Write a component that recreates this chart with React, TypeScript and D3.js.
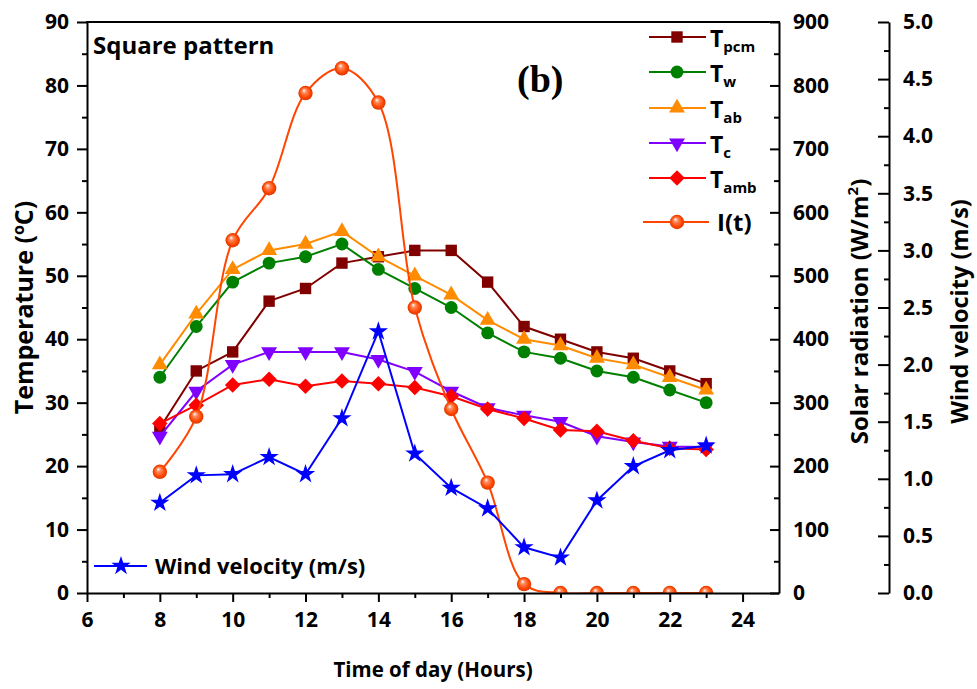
import { useEffect, useRef } from "react";
import * as d3 from "d3";

const width = 977;
const height = 689;
const plot = { left: 87, right: 779, top: 22, bottom: 593 };
const windAxisX = 889;
const font = "'Open Sans', 'Noto Sans', sans-serif";

// data
const hours = [8, 9, 10, 11, 12, 13, 14, 15, 16, 17, 18, 19, 20, 21, 22, 23];
const tPcm = [26, 35, 38, 46, 48, 52, 53, 54, 54, 49, 42, 40, 38, 37, 35, 33];
const tW = [34, 42, 49, 52, 53, 55, 51, 48, 45, 41, 38, 37, 35, 34, 32, 30];
const tAb = [36, 44, 51, 54, 55, 57, 53, 50, 47, 43, 40, 39, 37, 36, 34, 32];
const tC = [24.7, 31.8, 36, 38, 38, 38, 36.8, 34.9, 31.8, 29.2, 28, 27, 24.7, 23.8, 23.1, 23];
const tAmb = [26.7, 29.6, 32.8, 33.7, 32.6, 33.4, 33.0, 32.4, 31.0, 29.0, 27.5, 25.7, 25.5, 24.0, 22.8, 22.6];
const solar = [191, 278, 556, 638, 788, 827, 773, 450, 290, 174, 14, 0, 0, 0, 0, 0];
const wind = [0.79, 1.03, 1.04, 1.19, 1.04, 1.53, 2.29, 1.22, 0.92, 0.74, 0.4, 0.31, 0.81, 1.11, 1.25, 1.29];

const xTicks = [6, 8, 10, 12, 14, 16, 18, 20, 22, 24];
const tempTicks = [0, 10, 20, 30, 40, 50, 60, 70, 80, 90];
const solarTicks = [0, 100, 200, 300, 400, 500, 600, 700, 800, 900];
const windTicks = [0, 0.5, 1, 1.5, 2, 2.5, 3, 3.5, 4, 4.5, 5];

const tempSeries = [
  { key: "pcm", values: tPcm, color: "#800000", marker: "square" },
  { key: "w", values: tW, color: "#008000", marker: "circle" },
  { key: "ab", values: tAb, color: "#ff8c00", marker: "triangle" },
  { key: "c", values: tC, color: "#8000ff", marker: "down" },
  { key: "amb", values: tAmb, color: "#ff0000", marker: "diamond" },
];

const x = d3.scaleLinear().domain([6, 25]).range([plot.left, plot.right]);
const yT = d3.scaleLinear().domain([0, 90]).range([plot.bottom, plot.top]);
const yS = d3.scaleLinear().domain([0, 900]).range([plot.bottom, plot.top]);
const yW = d3.scaleLinear().domain([0, 5]).range([plot.bottom, plot.top]);

const symbolPath = (m: string) => {
  if (m === "square") return d3.symbol(d3.symbolSquare, 130)();
  if (m === "triangle") return d3.symbol(d3.symbolTriangle, 110)();
  if (m === "down") return d3.symbol(d3.symbolTriangle, 110)();
  if (m === "diamond") return d3.symbol(d3.symbolSquare, 120)();
  if (m === "star") return d3.symbol(d3.symbolStar, 115)();
  return d3.symbol(d3.symbolCircle, 130)();
};
const symbolRotate = (m: string) => (m === "down" ? 180 : m === "diamond" ? 45 : 0);

const Marker = ({ m, cx, cy, color }: any) => (
  <path
    d={symbolPath(m) as string}
    fill={color}
    transform={`translate(${cx},${cy}) rotate(${symbolRotate(m)})`}
  />
);

const Sphere = ({ cx, cy }: any) => (
  <circle cx={cx} cy={cy} r={7.2} fill="url(#sphereGrad)" />
);

const App = () => {
  const axesRef = useRef<SVGGElement>(null);

  useEffect(() => {
    const g = d3.select(axesRef.current);
    g.selectAll("*").remove();

    const styleAxis = (sel: any) => {
      sel.selectAll("path,line").attr("stroke", "#000").attr("stroke-width", 2);
      sel.selectAll("text")
        .attr("font-family", font)
        .attr("font-weight", 700)
        .attr("font-size", 21)
        .attr("fill", "#000");
    };

    // left temperature axis
    g.append("g")
      .attr("transform", `translate(${plot.left},0)`)
      .call(d3.axisLeft(yT).tickValues(tempTicks).tickSize(10).tickSizeOuter(0).tickPadding(8))
      .call(styleAxis);
    g.append("g")
      .attr("transform", `translate(${plot.left},0)`)
      .call(d3.axisLeft(yT).tickValues(d3.range(5, 90, 10)).tickSize(5).tickFormat(() => ""))
      .call((s: any) => s.select(".domain").remove())
      .call(styleAxis);

    // bottom time axis
    g.append("g")
      .attr("transform", `translate(0,${plot.bottom})`)
      .call(d3.axisBottom(x).tickValues(xTicks).tickSize(9).tickSizeOuter(0).tickPadding(10))
      .call(styleAxis);
    g.append("g")
      .attr("transform", `translate(0,${plot.bottom})`)
      .call(d3.axisBottom(x).tickValues(d3.range(7, 25, 2)).tickSize(5).tickFormat(() => ""))
      .call((s: any) => s.select(".domain").remove())
      .call(styleAxis);

    // top frame line
    g.append("line")
      .attr("x1", plot.left - 1)
      .attr("x2", plot.right + 1)
      .attr("y1", plot.top)
      .attr("y2", plot.top)
      .attr("stroke", "#000")
      .attr("stroke-width", 2);

    // solar radiation axis (right)
    g.append("g")
      .attr("transform", `translate(${plot.right},0)`)
      .call(d3.axisRight(yS).tickValues(solarTicks).tickSizeInner(-9).tickSizeOuter(0).tickPadding(14))
      .call(styleAxis);
    g.append("g")
      .attr("transform", `translate(${plot.right},0)`)
      .call(d3.axisRight(yS).tickValues(d3.range(50, 900, 100)).tickSizeInner(-5).tickFormat(() => ""))
      .call((s: any) => s.select(".domain").remove())
      .call(styleAxis);

    // wind velocity axis (offset right)
    g.append("g")
      .attr("transform", `translate(${windAxisX},0)`)
      .call(
        d3.axisRight(yW)
          .tickValues(windTicks)
          .tickSizeInner(-11)
          .tickSizeOuter(0)
          .tickPadding(14)
          .tickFormat(d3.format(".1f"))
      )
      .call(styleAxis);
    g.append("g")
      .attr("transform", `translate(${windAxisX},0)`)
      .call(d3.axisRight(yW).tickValues(d3.range(0.25, 5, 0.5)).tickSizeInner(-5).tickFormat(() => ""))
      .call((s: any) => s.select(".domain").remove())
      .call(styleAxis);
  }, []);

  const tempLine = (vals: number[]) =>
    d3.line<number>().x((_, i) => x(hours[i])).y((d) => yT(d))(vals) as string;
  const solarLine = d3
    .line<number>()
    .x((_, i) => x(hours[i]))
    .y((d) => yS(d))
    .curve(d3.curveCatmullRom.alpha(0.5))(solar) as string;
  const windLine = d3.line<number>().x((_, i) => x(hours[i])).y((d) => yW(d))(wind) as string;

  const legendRows = [
    { y: 37, ...tempSeries[0] },
    { y: 72, ...tempSeries[1] },
    { y: 108, ...tempSeries[2] },
    { y: 143, ...tempSeries[3] },
    { y: 178, ...tempSeries[4] },
  ];

  return (
    <svg
      width={width}
      height={height}
      style={{ position: "absolute", left: 0, top: 0, background: "#fff" }}
    >
      <defs>
        <clipPath id="plotClip">
          <rect x={plot.left} y={plot.top} width={plot.right - plot.left} height={plot.bottom - plot.top} />
        </clipPath>
        <radialGradient id="sphereGrad" cx="50%" cy="50%" r="50%" fx="38%" fy="30%">
          <stop offset="0%" stopColor="#ffffff" />
          <stop offset="30%" stopColor="#ff8a5c" />
          <stop offset="75%" stopColor="#ff4500" />
          <stop offset="100%" stopColor="#d83800" />
        </radialGradient>
      </defs>

      {tempSeries.map((s) => (
        <g key={s.key}>
          <path d={tempLine(s.values)} fill="none" stroke={s.color} strokeWidth={2} />
          {s.values.map((v, i) => (
            <Marker key={i} m={s.marker} cx={x(hours[i])} cy={yT(v)} color={s.color} />
          ))}
        </g>
      ))}

      <g clipPath="url(#plotClip)">
        <path d={solarLine} fill="none" stroke="#ff4500" strokeWidth={2} />
        {solar.map((v, i) => (
          <Sphere key={i} cx={x(hours[i])} cy={yS(v)} />
        ))}
      </g>

      <path d={windLine} fill="none" stroke="#0000ff" strokeWidth={2} />
      {wind.map((v, i) => (
        <Marker key={i} m="star" cx={x(hours[i])} cy={yW(v)} color="#0000ff" />
      ))}

      <g ref={axesRef} />

      {/* legend, upper right */}
      {legendRows.map((r) => (
        <g key={r.key}>
          <line x1={649} x2={706} y1={r.y} y2={r.y} stroke={r.color} strokeWidth={2} />
          <Marker m={r.marker} cx={677} cy={r.y} color={r.color} />
          <text x={710} y={r.y + 10} fontFamily={font} fontWeight={700} fontSize={23}>
            T<tspan fontSize={15} dy={5}>{r.key}</tspan>
          </text>
        </g>
      ))}
      <line x1={643} x2={709} y1={222} y2={222} stroke="#ff4500" strokeWidth={2} />
      <Sphere cx={677} cy={222} />
      <text x={717} y={231} fontFamily={font} fontWeight={700} fontSize={24}>
        I(t)
      </text>

      {/* wind legend, lower left */}
      <line x1={94} x2={147} y1={566} y2={566} stroke="#0000ff" strokeWidth={2} />
      <Marker m="star" cx={121} cy={566} color="#0000ff" />
      <text x={155} y={574} fontFamily={font} fontWeight={700} fontSize={22}>
        Wind velocity (m/s)
      </text>

      <text x={93} y={54} fontFamily={font} fontWeight={700} fontSize={24}>
        Square pattern
      </text>
      <text x={517} y={92} fontFamily="'Liberation Serif', 'Times New Roman', serif" fontWeight={700} fontSize={38}>
        (b)
      </text>

      {/* axis titles */}
      <text
        transform={`translate(33,${(plot.top + plot.bottom) / 2}) rotate(-90)`}
        textAnchor="middle"
        fontFamily={font}
        fontWeight={700}
        fontSize={25}
      >
        Temperature (<tspan fontSize={16} dy={-9}>o</tspan>
        <tspan dy={9}>C)</tspan>
      </text>
      <text
        x={(plot.left + plot.right) / 2}
        y={677}
        textAnchor="middle"
        fontFamily={font}
        fontWeight={700}
        fontSize={20.5}
      >
        Time of day (Hours)
      </text>
      <text
        transform={`translate(868,${(plot.top + plot.bottom) / 2 + 4}) rotate(-90)`}
        textAnchor="middle"
        fontFamily={font}
        fontWeight={700}
        fontSize={24}
      >
        Solar radiation (W/m<tspan fontSize={15} dy={-10}>2</tspan>
        <tspan dy={10}>)</tspan>
      </text>
      <text
        transform={`translate(968,${(plot.top + plot.bottom) / 2 + 4}) rotate(-90)`}
        textAnchor="middle"
        fontFamily={font}
        fontWeight={700}
        fontSize={23.5}
      >
        Wind velocity (m/s)
      </text>
    </svg>
  );
};

export default App;
